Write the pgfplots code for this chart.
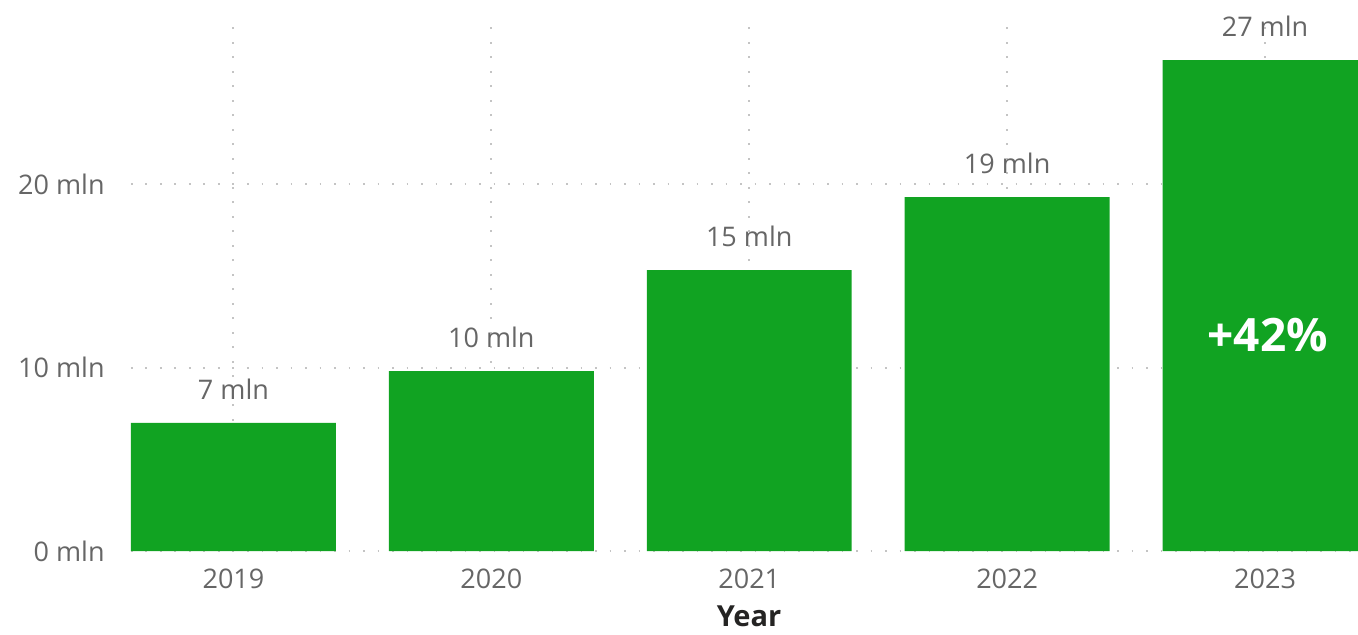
\documentclass[border=0pt]{standalone}
\usepackage{pgfplots}
\pgfplotsset{compat=1.18}
\usepackage{fontspec}
\setmainfont{Open Sans}
\definecolor{barg}{HTML}{11A322}
\definecolor{txt}{HTML}{666666}
\definecolor{ttl}{HTML}{252423}
\definecolor{grd}{HTML}{C4C4C4}
\begin{document}
\begin{tikzpicture}
\begin{axis}[
  scale only axis,
  width=613.5pt, height=267.5pt,
  xmin=-0.3973, xmax=4.3605,
  ymin=0, ymax=29.16,
  axis line style={draw=none},
  tick style={draw=none},
  /pgf/number format/assume math mode=true,
  xtick={0,1,2,3,4},
  xticklabels={2019,2020,2021,2022,2023},
  ytick={0,10,20},
  yticklabel={\pgfmathprintnumber{\tick}~mln},
  ticklabel style={font=\fontsize{13.5}{16}\selectfont, text=txt, inner sep=0pt},
  yticklabel style={anchor=east, xshift=-13pt},
  xticklabel style={anchor=north, yshift=-9pt},
  xmajorgrids, ymajorgrids,
  grid style={color=grd, line width=1pt, dash pattern=on 0.9pt off 6.35pt},
  xlabel={Year},
  xlabel style={at={(axis description cs:0.5037,0)}, anchor=north, yshift=-27pt, inner sep=0pt,
    font=\fontsize{14.5}{17}\selectfont\bfseries, text=ttl},
  clip=true,
]
\addplot[ybar, bar width=0.7946, fill=barg, draw=none,
  nodes near coords={\pgfmathprintnumber[fixed,precision=0]{\pgfplotspointmeta}~mln},
  every node near coord/.append style={font=\fontsize{13.5}{16}\selectfont, text=txt, anchor=south, inner sep=0pt, yshift=11.5pt}]
  coordinates {(0,6.98) (1,9.81) (2,15.31) (3,19.29) (4,26.76)};
\node[font=\fontsize{23}{27}\selectfont\bfseries, text=white] at (axis cs:4.01,11.77) {+42\%};
\coordinate (SW) at (rel axis cs:0,0);
\coordinate (NE) at (rel axis cs:1,1);
\end{axis}
\pgfresetboundingbox
\path[use as bounding box] ([xshift=-65.5pt,yshift=-41.5pt]SW) rectangle ([yshift=8pt]NE);
\end{tikzpicture}
\end{document}
